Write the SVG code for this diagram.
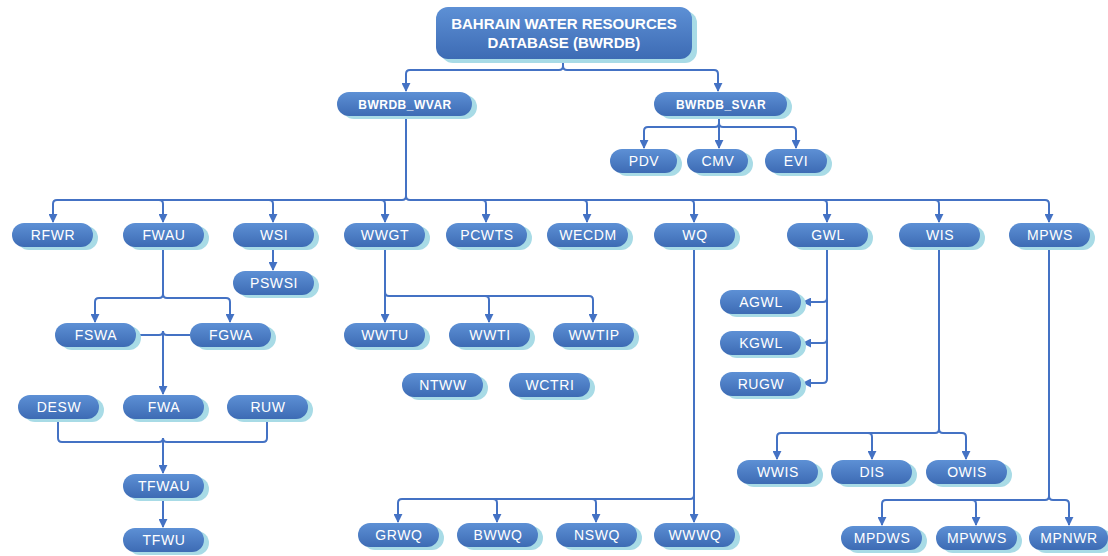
<svg xmlns="http://www.w3.org/2000/svg" width="1108" height="556" viewBox="0 0 1108 556">
<defs>
<linearGradient id="g" x1="0" y1="0" x2="0" y2="1">
<stop offset="0" stop-color="#5d90d5"/>
<stop offset="1" stop-color="#3d6bb4"/>
</linearGradient>
<marker id="ah" viewBox="0 0 10 10" refX="9" refY="5" markerWidth="9" markerHeight="9" markerUnits="userSpaceOnUse" orient="auto">
<path d="M0,0 L10,5 L0,10 z" fill="#4472c4"/>
</marker>
<style>
.sh{fill:#a8dbe6}
.bx{fill:url(#g)}
.t{font-family:"Liberation Sans",Arial,sans-serif;font-size:14px;fill:#fff;text-anchor:middle;letter-spacing:0.6px}
.tb{font-family:"Liberation Sans",Arial,sans-serif;font-weight:bold;fill:#fff;text-anchor:middle}
.c{fill:none;stroke:#4472c4;stroke-width:2}
.a{marker-end:url(#ah)}
</style>
</defs>
<rect width="1108" height="556" fill="#fff"/>

<g id="connectors">
<path class="c a" d="M563,59 V66 Q563,70 559,70 H410 Q406,70 406,74 V91"/>
<path class="c a" d="M563,66 Q563,70 567,70 H714 Q718,70 718,74 V91"/>
<path class="c a" d="M719,116 V123 Q719,127 715,127 H648 Q644,127 644,131 V148"/>
<path class="c a" d="M719,123 V148"/>
<path class="c a" d="M719,123 Q719,127 723,127 H792 Q796,127 796,131 V148"/>
<path class="c a" d="M406,116 V196 Q406,200 402,200 H57 Q53,200 53,204 V222"/>
<path class="c a" d="M406,196 Q406,200 410,200 H1045 Q1049,200 1049,204 V222"/>
<path class="c a" d="M159,200 Q163,200 163,204 V222"/>
<path class="c a" d="M269,200 Q273,200 273,204 V222"/>
<path class="c a" d="M381,200 Q385,200 385,204 V222"/>
<path class="c a" d="M482,200 Q486,200 486,204 V222"/>
<path class="c a" d="M583,200 Q587,200 587,204 V222"/>
<path class="c a" d="M690,200 Q694,200 694,204 V222"/>
<path class="c a" d="M823,200 Q827,200 827,204 V222"/>
<path class="c a" d="M935,200 Q939,200 939,204 V222"/>
<path class="c a" d="M273,247 V270"/>
<path class="c a" d="M163,247 V294 Q163,298 159,298 H99 Q95,298 95,302 V322"/>
<path class="c a" d="M163,294 Q163,298 167,298 H226 Q230,298 230,302 V322"/>
<path class="c" d="M136,335 H159 Q163,335 163,331 M190,335 H167 Q163,335 163,331"/>
<path class="c a" d="M163,331 V394"/>
<path class="c" d="M58,419 V438 Q58,442 62,442 H159 Q163,442 163,438 M267,419 V438 Q267,442 263,442 H167 Q163,442 163,438"/>
<path class="c a" d="M163,438 V473"/>
<path class="c a" d="M163,497 V527"/>
<path class="c a" d="M385,247 V322"/>
<path class="c a" d="M385,292 Q385,296 389,296 H589 Q593,296 593,300 V322"/>
<path class="c a" d="M485,296 Q489,296 489,300 V322"/>
<path class="c a" d="M694,247 V522"/>
<path class="c a" d="M694,495 Q694,499 690,499 H402 Q398,499 398,503 V522"/>
<path class="c a" d="M493,499 Q497,499 497,503 V522"/>
<path class="c a" d="M592,499 Q596,499 596,503 V522"/>
<path class="c a" d="M827,247 V379 Q827,383 823,383 H803"/>
<path class="c a" d="M827,298 Q827,302 823,302 H803"/>
<path class="c a" d="M827,339 Q827,343 823,343 H803"/>
<path class="c a" d="M939,247 V429 Q939,433 935,433 H781 Q777,433 777,437 V459"/>
<path class="c a" d="M939,429 Q939,433 943,433 H962 Q966,433 966,437 V459"/>
<path class="c a" d="M868,433 Q872,433 872,437 V459"/>
<path class="c a" d="M1049,247 V496 Q1049,500 1045,500 H886 Q882,500 882,504 V525"/>
<path class="c a" d="M1049,496 Q1049,500 1053,500 H1065 Q1069,500 1069,504 V525"/>
<path class="c a" d="M972,500 Q976,500 976,504 V525"/>
</g>

<g id="root"><rect class="sh" x="441" y="11" width="256" height="52" rx="12"/><rect class="bx" x="436" y="7" width="256" height="52" rx="12"/><text class="tb" font-size="15" x="564" y="29">BAHRAIN WATER RESOURCES</text><text class="tb" font-size="15" x="564" y="48">DATABASE (BWRDB)</text></g>
<g id="wvar"><rect class="sh" x="342" y="95" width="135" height="24" rx="12"/><rect class="bx" x="337" y="92" width="135" height="24" rx="12"/><text class="tb" font-size="12" letter-spacing="0.5" x="405" y="108.5">BWRDB_WVAR</text></g>
<g id="svar"><rect class="sh" x="659" y="95" width="133" height="24" rx="12"/><rect class="bx" x="654" y="92" width="133" height="24" rx="12"/><text class="tb" font-size="12" letter-spacing="0.5" x="721" y="108.5">BWRDB_SVAR</text></g>
<g id="pdv"><rect class="sh" x="615" y="152" width="67" height="24" rx="12"/><rect class="bx" x="610" y="149" width="67" height="24" rx="12"/><text class="t" x="644" y="166">PDV</text></g>
<g id="cmv"><rect class="sh" x="692" y="152" width="61" height="24" rx="12"/><rect class="bx" x="687" y="149" width="61" height="24" rx="12"/><text class="t" x="718" y="166">CMV</text></g>
<g id="evi"><rect class="sh" x="770" y="152" width="62" height="24" rx="12"/><rect class="bx" x="765" y="149" width="62" height="24" rx="12"/><text class="t" x="796" y="166">EVI</text></g>

<g id="rfwr"><rect class="sh" x="17" y="226" width="81" height="24" rx="12"/><rect class="bx" x="12" y="223" width="81" height="24" rx="12"/><text class="t" x="53" y="240">RFWR</text></g>
<g id="fwau"><rect class="sh" x="128" y="226" width="81" height="24" rx="12"/><rect class="bx" x="123" y="223" width="81" height="24" rx="12"/><text class="t" x="164" y="240">FWAU</text></g>
<g id="wsi"><rect class="sh" x="238" y="226" width="81" height="24" rx="12"/><rect class="bx" x="233" y="223" width="81" height="24" rx="12"/><text class="t" x="274" y="240">WSI</text></g>
<g id="wwgt"><rect class="sh" x="349" y="226" width="81" height="24" rx="12"/><rect class="bx" x="344" y="223" width="81" height="24" rx="12"/><text class="t" x="385" y="240">WWGT</text></g>
<g id="pcwts"><rect class="sh" x="451" y="226" width="81" height="24" rx="12"/><rect class="bx" x="446" y="223" width="81" height="24" rx="12"/><text class="t" x="487" y="240">PCWTS</text></g>
<g id="wecdm"><rect class="sh" x="552" y="226" width="81" height="24" rx="12"/><rect class="bx" x="547" y="223" width="81" height="24" rx="12"/><text class="t" x="588" y="240">WECDM</text></g>
<g id="wq"><rect class="sh" x="659" y="226" width="81" height="24" rx="12"/><rect class="bx" x="654" y="223" width="81" height="24" rx="12"/><text class="t" x="695" y="240">WQ</text></g>
<g id="gwl"><rect class="sh" x="792" y="226" width="81" height="24" rx="12"/><rect class="bx" x="787" y="223" width="81" height="24" rx="12"/><text class="t" x="828" y="240">GWL</text></g>
<g id="wis"><rect class="sh" x="904" y="226" width="81" height="24" rx="12"/><rect class="bx" x="899" y="223" width="81" height="24" rx="12"/><text class="t" x="940" y="240">WIS</text></g>
<g id="mpws"><rect class="sh" x="1014" y="226" width="81" height="24" rx="12"/><rect class="bx" x="1009" y="223" width="81" height="24" rx="12"/><text class="t" x="1050" y="240">MPWS</text></g>

<g id="pswsi"><rect class="sh" x="238" y="274" width="81" height="24" rx="12"/><rect class="bx" x="233" y="271" width="81" height="24" rx="12"/><text class="t" x="274" y="288">PSWSI</text></g>
<g id="fswa"><rect class="sh" x="60" y="326" width="81" height="24" rx="12"/><rect class="bx" x="55" y="323" width="81" height="24" rx="12"/><text class="t" x="96" y="340">FSWA</text></g>
<g id="fgwa"><rect class="sh" x="195" y="326" width="81" height="24" rx="12"/><rect class="bx" x="190" y="323" width="81" height="24" rx="12"/><text class="t" x="231" y="340">FGWA</text></g>
<g id="desw"><rect class="sh" x="23" y="398" width="81" height="24" rx="12"/><rect class="bx" x="18" y="395" width="81" height="24" rx="12"/><text class="t" x="59" y="412">DESW</text></g>
<g id="fwa"><rect class="sh" x="128" y="398" width="81" height="24" rx="12"/><rect class="bx" x="123" y="395" width="81" height="24" rx="12"/><text class="t" x="164" y="412">FWA</text></g>
<g id="ruw"><rect class="sh" x="232" y="398" width="81" height="24" rx="12"/><rect class="bx" x="227" y="395" width="81" height="24" rx="12"/><text class="t" x="268" y="412">RUW</text></g>
<g id="tfwau"><rect class="sh" x="128" y="477" width="81" height="24" rx="12"/><rect class="bx" x="123" y="474" width="81" height="24" rx="12"/><text class="t" x="164" y="491">TFWAU</text></g>
<g id="tfwu"><rect class="sh" x="128" y="531" width="81" height="24" rx="12"/><rect class="bx" x="123" y="528" width="81" height="24" rx="12"/><text class="t" x="164" y="545">TFWU</text></g>

<g id="wwtu"><rect class="sh" x="349" y="326" width="81" height="24" rx="12"/><rect class="bx" x="344" y="323" width="81" height="24" rx="12"/><text class="t" x="385" y="340">WWTU</text></g>
<g id="wwti"><rect class="sh" x="454" y="326" width="81" height="24" rx="12"/><rect class="bx" x="449" y="323" width="81" height="24" rx="12"/><text class="t" x="490" y="340">WWTI</text></g>
<g id="wwtip"><rect class="sh" x="558" y="326" width="81" height="24" rx="12"/><rect class="bx" x="553" y="323" width="81" height="24" rx="12"/><text class="t" x="594" y="340">WWTIP</text></g>
<g id="ntww"><rect class="sh" x="407" y="376" width="81" height="24" rx="12"/><rect class="bx" x="402" y="373" width="81" height="24" rx="12"/><text class="t" x="443" y="390">NTWW</text></g>
<g id="wctri"><rect class="sh" x="514" y="376" width="81" height="24" rx="12"/><rect class="bx" x="509" y="373" width="81" height="24" rx="12"/><text class="t" x="550" y="390">WCTRI</text></g>

<g id="grwq"><rect class="sh" x="363" y="526" width="81" height="24" rx="12"/><rect class="bx" x="358" y="523" width="81" height="24" rx="12"/><text class="t" x="399" y="540">GRWQ</text></g>
<g id="bwwq"><rect class="sh" x="462" y="526" width="81" height="24" rx="12"/><rect class="bx" x="457" y="523" width="81" height="24" rx="12"/><text class="t" x="498" y="540">BWWQ</text></g>
<g id="nswq"><rect class="sh" x="561" y="526" width="81" height="24" rx="12"/><rect class="bx" x="556" y="523" width="81" height="24" rx="12"/><text class="t" x="597" y="540">NSWQ</text></g>
<g id="wwwq"><rect class="sh" x="659" y="526" width="81" height="24" rx="12"/><rect class="bx" x="654" y="523" width="81" height="24" rx="12"/><text class="t" x="695" y="540">WWWQ</text></g>

<g id="agwl"><rect class="sh" x="725" y="293" width="81" height="24" rx="12"/><rect class="bx" x="720" y="290" width="81" height="24" rx="12"/><text class="t" x="761" y="307">AGWL</text></g>
<g id="kgwl"><rect class="sh" x="725" y="334" width="81" height="24" rx="12"/><rect class="bx" x="720" y="331" width="81" height="24" rx="12"/><text class="t" x="761" y="348">KGWL</text></g>
<g id="rugw"><rect class="sh" x="725" y="375" width="81" height="24" rx="12"/><rect class="bx" x="720" y="372" width="81" height="24" rx="12"/><text class="t" x="761" y="389">RUGW</text></g>

<g id="wwis"><rect class="sh" x="742" y="463" width="81" height="24" rx="12"/><rect class="bx" x="737" y="460" width="81" height="24" rx="12"/><text class="t" x="778" y="477">WWIS</text></g>
<g id="dis"><rect class="sh" x="836" y="463" width="81" height="24" rx="12"/><rect class="bx" x="831" y="460" width="81" height="24" rx="12"/><text class="t" x="872" y="477">DIS</text></g>
<g id="owis"><rect class="sh" x="931" y="463" width="81" height="24" rx="12"/><rect class="bx" x="926" y="460" width="81" height="24" rx="12"/><text class="t" x="967" y="477">OWIS</text></g>

<g id="mpdws"><rect class="sh" x="846" y="529" width="81" height="24" rx="12"/><rect class="bx" x="841" y="526" width="81" height="24" rx="12"/><text class="t" x="882" y="543">MPDWS</text></g>
<g id="mpwws"><rect class="sh" x="941" y="529" width="81" height="24" rx="12"/><rect class="bx" x="936" y="526" width="81" height="24" rx="12"/><text class="t" x="977" y="543">MPWWS</text></g>
<g id="mpnwr"><rect class="sh" x="1034" y="529" width="79" height="24" rx="12"/><rect class="bx" x="1029" y="526" width="79" height="24" rx="12"/><text class="t" x="1069" y="543">MPNWR</text></g>
</svg>
